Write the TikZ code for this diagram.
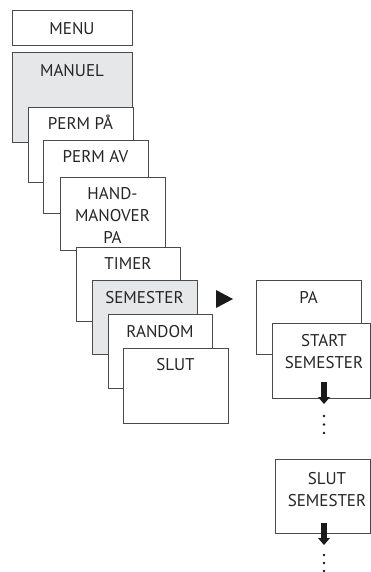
\documentclass[tikz,border=0pt]{standalone}
\usepackage{fontspec}
\setmainfont{PT Sans}
\definecolor{boxline}{HTML}{4A4A4A}
\definecolor{boxgray}{HTML}{E6E7E8}
\definecolor{txt}{HTML}{262626}
\definecolor{mark}{HTML}{1A1A1A}
\begin{document}
\begin{tikzpicture}[x=1pt,y=-1pt,
  menubox/.style={draw=boxline,line width=0.8pt,fill=white,anchor=north west,inner sep=0pt,outer sep=0pt},
  graybox/.style={menubox,fill=boxgray},
  lbl/.style={font=\fontsize{17}{22}\selectfont,text=txt,inner sep=0pt,anchor=base},
  mlbl/.style={font=\fontsize{17}{22}\selectfont,text=txt,inner sep=0pt,anchor=north,align=center},
  marker/.style={fill=mark,draw=none}]
\useasboundingbox (0,0) rectangle (371,572);
% left column
\node[menubox,minimum width=120pt,minimum height=35pt] (menu) at (12,10) {};
\node[lbl] (tmenu) at ([yshift=-25pt]menu.north) {MENU};
\node[graybox,minimum width=120pt,minimum height=90pt] (manuel) at (12,52) {};
\node[lbl] (tmanuel) at ([yshift=-25pt]manuel.north) {MANUEL};
\node[menubox,minimum width=105pt,minimum height=75pt] (permpa) at (28,107) {};
\node[lbl] (tpermpa) at ([yshift=-23pt]permpa.north) {PERM PÅ};
\node[menubox,minimum width=105pt,minimum height=73pt] (permav) at (43,140) {};
\node[lbl] (tpermav) at ([yshift=-23pt]permav.north) {PERM AV};
\node[menubox,minimum width=105pt,minimum height=73pt] (hand) at (60,177) {};
\node[mlbl] (thand) at ([yshift=-10pt]hand.north) {HAND-\\MANOVER\\PA};
\node[menubox,minimum width=104pt,minimum height=74pt] (timer) at (76,247) {};
\node[lbl] (ttimer) at ([yshift=-22pt]timer.north) {TIMER};
\node[graybox,minimum width=105pt,minimum height=74pt] (semester) at (92,280) {};
\node[lbl] (tsemester) at ([yshift=-23pt]semester.north) {SEMESTER};
\node[menubox,minimum width=104pt,minimum height=74pt] (random) at (108,314) {};
\node[lbl] (trandom) at ([yshift=-23pt]random.north) {RANDOM};
\node[menubox,minimum width=105pt,minimum height=75pt] (slut) at (123,348) {};
\node[lbl] (tslut) at ([yshift=-22pt]slut.north) {SLUT};
% triangle
\coordinate (tri) at (216,290);
\fill[marker] (tri) -- ++(0,18) -- ++(17,-9) -- cycle;
% right column
\node[menubox,minimum width=105pt,minimum height=74pt] (pa) at (256,280) {};
\node[lbl] (tpa) at ([yshift=-23pt]pa.north) {PA};
\node[menubox,minimum width=98pt,minimum height=75pt] (start) at (272,323) {};
\node[mlbl] (tstart) at (324,334) {START\\SEMESTER};
\node[menubox,minimum width=95pt,minimum height=74pt] (slutsem) at (275,459) {};
\node[mlbl] (tslutsem) at (327,472) {SLUT\\SEMESTER};
% down arrows
\coordinate (a1) at (324,398);
\fill[marker] ([xshift=-3pt,yshift=16pt]a1) rectangle ([xshift=3pt]a1);
\fill[marker] ([xshift=-6pt,yshift=1pt]a1) -- ([xshift=6pt,yshift=1pt]a1) -- ([yshift=-6pt]a1) -- cycle;
\fill[marker] (324,416) circle (1.4pt) (324,424.5) circle (1.4pt) (324,433) circle (1.4pt);
\coordinate (a2) at (324,539);
\fill[marker] ([xshift=-3pt,yshift=16pt]a2) rectangle ([xshift=3pt]a2);
\fill[marker] ([xshift=-6pt,yshift=1pt]a2) -- ([xshift=6pt,yshift=1pt]a2) -- ([yshift=-6pt]a2) -- cycle;
\fill[marker] (324,555) circle (1.4pt) (324,563) circle (1.4pt) (324,571) circle (1.4pt);
\end{tikzpicture}
\end{document}
